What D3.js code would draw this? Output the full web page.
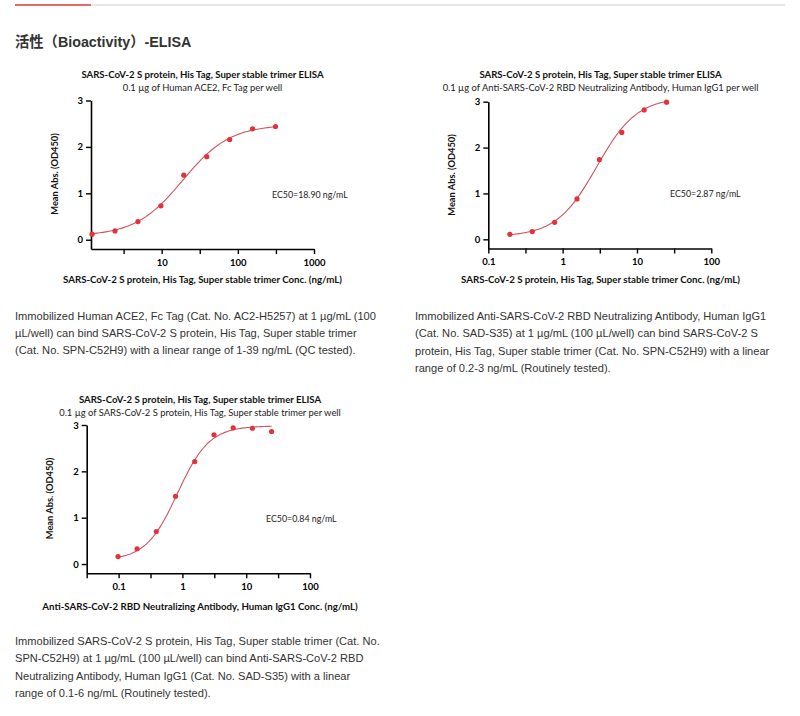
<!DOCTYPE html>
<html>
<head>
<meta charset="utf-8">
<script src="https://cdn.jsdelivr.net/npm/d3@7"></script>
<style>
  html, body { margin: 0; padding: 0; background: #fff; }
  svg { display: block; }
</style>
</head>
<body>
<svg id="root" width="800" height="716"></svg>
<script>
// ---------------- DATA ----------------
const pageTitle = "活性（Bioactivity）-ELISA";

const chartTitles = [
  "SARS-CoV-2 S protein, His Tag, Super stable trimer ELISA",
  "SARS-CoV-2 S protein, His Tag, Super stable trimer ELISA",
  "SARS-CoV-2 S protein, His Tag, Super stable trimer ELISA"
];
const chartSubtitles = [
  "0.1 µg of Human ACE2, Fc Tag per well",
  "0.1 µg of Anti-SARS-CoV-2 RBD Neutralizing Antibody, Human IgG1 per well",
  "0.1 µg of SARS-CoV-2 S protein, His Tag, Super stable trimer per well"
];
const xAxisTitles = [
  "SARS-CoV-2 S protein, His Tag, Super stable trimer Conc. (ng/mL)",
  "SARS-CoV-2 S protein, His Tag, Super stable trimer Conc. (ng/mL)",
  "Anti-SARS-CoV-2 RBD Neutralizing Antibody, Human IgG1 Conc. (ng/mL)"
];
const yAxisTitle = "Mean Abs. (OD450)";
const ec50Labels = ["EC50=18.90 ng/mL", "EC50=2.87 ng/mL", "EC50=0.84 ng/mL"];

// concentrations (ng/mL) and mean OD450
const conc1 = [1.22, 2.44, 4.88, 9.77, 19.5, 39.1, 78.1, 156, 312.5];
const od1   = [0.12, 0.19, 0.39, 0.73, 1.39, 1.79, 2.16, 2.39, 2.44];
const conc2 = [0.195, 0.39, 0.78, 1.56, 3.125, 6.25, 12.5, 25];
const od2   = [0.11, 0.17, 0.37, 0.88, 1.74, 2.33, 2.82, 2.99];
const conc3 = [0.098, 0.195, 0.39, 0.78, 1.56, 3.125, 6.25, 12.5, 25];
const od3   = [0.16, 0.33, 0.70, 1.46, 2.21, 2.79, 2.94, 2.93, 2.86];

// 4-parameter logistic fit: [bottom, top, EC50, hill]
const fit1 = [0.08, 2.48, 18.9, 1.4];
const fit2 = [0.06, 3.10, 2.87, 1.6];
const fit3 = [0.08, 2.98, 0.84, 1.75];

// axes
const xDomain1 = [1.18, 1000];
const xDomain2 = [0.1, 100];
const xDomain3 = [0.0316, 100];
const xTicks1 = [3.162, 10, 31.62, 100, 316.2, 1000];
const xTicks2 = [0.1, 0.3162, 1, 3.162, 10, 31.62, 100];
const xTicks3 = [0.03162, 0.1, 0.3162, 1, 3.162, 10, 31.62, 100];
const xTickLabels1 = {10: "10", 100: "100", 1000: "1000"};
const xTickLabels2 = {0.1: "0.1", 1: "1", 10: "10", 100: "100"};
const xTickLabels3 = {0.1: "0.1", 1: "1", 10: "10", 100: "100"};
const yDomain = [-0.2, 3];
const yTicks = [0, 1, 2, 3];

const desc1 = [
  "Immobilized Human ACE2, Fc Tag (Cat. No. AC2-H5257) at 1 µg/mL (100",
  "µL/well) can bind SARS-CoV-2 S protein, His Tag, Super stable trimer",
  "(Cat. No. SPN-C52H9) with a linear range of 1-39 ng/mL (QC tested)."
];
const desc2 = [
  "Immobilized Anti-SARS-CoV-2 RBD Neutralizing Antibody, Human IgG1",
  "(Cat. No. SAD-S35) at 1 µg/mL (100 µL/well) can bind SARS-CoV-2 S",
  "protein, His Tag, Super stable trimer (Cat. No. SPN-C52H9) with a linear",
  "range of 0.2-3 ng/mL (Routinely tested)."
];
const desc3 = [
  "Immobilized SARS-CoV-2 S protein, His Tag, Super stable trimer (Cat. No.",
  "SPN-C52H9) at 1 µg/mL (100 µL/well) can bind Anti-SARS-CoV-2 RBD",
  "Neutralizing Antibody, Human IgG1 (Cat. No. SAD-S35) with a linear",
  "range of 0.1-6 ng/mL (Routinely tested)."
];

// ---------------- LAYOUT ----------------
const svg = d3.select("#root");
svg.append("rect").attr("width", 800).attr("height", 716).attr("fill", "#fff");

const CHART_FONT = "Lato, 'Open Sans', sans-serif";
const PARA_FONT = "'Liberation Sans', Arial, sans-serif";
const DOT = "#e2323d";
const LINE = "#d2525a";

// header
svg.append("line").attr("x1", 15).attr("x2", 785).attr("y1", 5).attr("y2", 5)
  .attr("stroke", "#e6e6e6").attr("stroke-width", 2);
svg.append("line").attr("x1", 15).attr("x2", 91).attr("y1", 5).attr("y2", 5)
  .attr("stroke", "#e26a6a").attr("stroke-width", 2);
svg.append("text").attr("x", 15).attr("y", 47)
  .attr("font-family", "'Liberation Sans', 'Noto Sans CJK SC', sans-serif")
  .attr("font-weight", "bold").attr("font-size", 14.3).attr("fill", "#333")
  .text(pageTitle);

const charts = [
  { conc: conc1, od: od1, fit: fit1, xDomain: xDomain1, xTicks: xTicks1, xLabels: xTickLabels1,
    xRange: [91, 314], yRange: [249, 100.5], title: chartTitles[0], sub: chartSubtitles[0],
    xTitle: xAxisTitles[0], ec50: ec50Labels[0], cx: 202.5, titleY: 78, subY: 90.5,
    yTitleX: 55, yTitleY: 174, xTitleY: 283, ecX: 272, ecY: 198 },
  { conc: conc2, od: od2, fit: fit2, xDomain: xDomain2, xTicks: xTicks2, xLabels: xTickLabels2,
    xRange: [488.3, 711.3], yRange: [248.5, 101.7], title: chartTitles[1], sub: chartSubtitles[1],
    xTitle: xAxisTitles[1], ec50: ec50Labels[1], cx: 600.5, titleY: 78, subY: 90.5,
    yTitleX: 452, yTitleY: 175, xTitleY: 283, ecX: 670, ecY: 197 },
  { conc: conc3, od: od3, fit: fit3, xDomain: xDomain3, xTicks: xTicks3, xLabels: xTickLabels3,
    xRange: [86.7, 310], yRange: [573.3, 425], title: chartTitles[2], sub: chartSubtitles[2],
    xTitle: xAxisTitles[2], ec50: ec50Labels[2], cx: 200, titleY: 403, subY: 415.5,
    yTitleX: 50, yTitleY: 498.5, xTitleY: 610, ecX: 266, ecY: 522 }
];

function logistic(f, x) {
  return f[0] + (f[1] - f[0]) / (1 + Math.pow(f[2] / x, f[3]));
}

charts.forEach(c => {
  const g = svg.append("g");
  const x = d3.scaleLog().domain(c.xDomain).range(c.xRange);
  const y = d3.scaleLinear().domain(yDomain).range(c.yRange);

  // titles
  g.append("text").attr("x", c.cx).attr("y", c.titleY).attr("text-anchor", "middle")
    .attr("font-family", CHART_FONT).attr("font-weight", "bold").attr("font-size", 9.6)
    .attr("fill", "#111").text(c.title);
  g.append("text").attr("x", c.cx).attr("y", c.subY).attr("text-anchor", "middle")
    .attr("font-family", CHART_FONT).attr("font-size", 9.4)
    .attr("fill", "#222").text(c.sub);

  // axes
  const yAxis = d3.axisLeft(y).tickValues(yTicks).tickFormat(d3.format("d"))
    .tickSizeInner(5).tickSizeOuter(0).tickPadding(3);
  const ya = g.append("g").attr("transform", `translate(${c.xRange[0]},0)`).call(yAxis);

  const xAxis = d3.axisBottom(x).tickValues(c.xTicks)
    .tickFormat(d => c.xLabels[d] !== undefined ? c.xLabels[d] : "")
    .tickSizeInner(5).tickSizeOuter(0).tickPadding(5);
  const xa = g.append("g").attr("transform", `translate(0,${c.yRange[0]})`).call(xAxis);

  [ya, xa].forEach(a => {
    a.select(".domain").attr("stroke", "#000").attr("stroke-width", 1.6);
    a.selectAll(".tick line").attr("stroke", "#000").attr("stroke-width", 1.4);
    a.selectAll(".tick text").attr("font-family", CHART_FONT).attr("font-weight", "bold")
      .attr("font-size", 9.5).attr("fill", "#000");
  });

  // axis titles
  g.append("text").attr("transform", `translate(${c.yTitleX},${c.yTitleY}) rotate(-90)`)
    .attr("text-anchor", "middle").attr("dy", "0.35em")
    .attr("font-family", CHART_FONT).attr("font-weight", "bold").attr("font-size", 9.3)
    .attr("fill", "#111").text(yAxisTitle);
  g.append("text").attr("x", c.cx).attr("y", c.xTitleY).attr("text-anchor", "middle")
    .attr("font-family", CHART_FONT).attr("font-weight", "bold").attr("font-size", 9.7)
    .attr("fill", "#111").text(c.xTitle);

  // EC50 label
  g.append("text").attr("x", c.ecX).attr("y", c.ecY)
    .attr("font-family", CHART_FONT).attr("font-size", 8.8)
    .attr("fill", "#222").text(c.ec50);

  // fitted curve
  const lo = Math.log10(d3.min(c.conc)), hi = Math.log10(d3.max(c.conc));
  const samples = d3.range(0, 121).map(i => Math.pow(10, lo + (hi - lo) * i / 120));
  g.append("path").datum(samples)
    .attr("fill", "none").attr("stroke", LINE).attr("stroke-width", 1.1)
    .attr("d", d3.line().x(d => x(d)).y(d => y(logistic(c.fit, d))));

  // points
  g.selectAll("circle.pt").data(c.conc.map((v, i) => [v, c.od[i]])).join("circle")
    .attr("class", "pt").attr("cx", d => x(d[0])).attr("cy", d => y(d[1]))
    .attr("r", 2.6).attr("fill", DOT);
});

// descriptions
function para(lines, x0, y0, lh) {
  svg.append("g").selectAll("text").data(lines).join("text")
    .attr("x", x0).attr("y", (d, i) => y0 + i * lh)
    .attr("font-family", PARA_FONT).attr("font-size", 11.1).attr("fill", "#333")
    .text(d => d);
}
para(desc1, 15, 319.5, 17.3);
para(desc2, 415, 319.5, 17.6);
para(desc3, 15, 645, 17.3);
</script>
</body>
</html>
